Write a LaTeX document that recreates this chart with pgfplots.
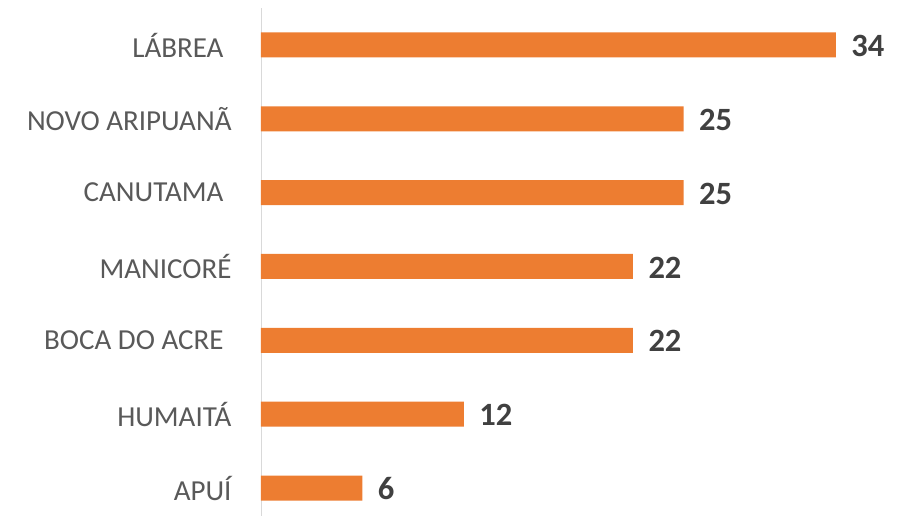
\documentclass[border=0pt]{standalone}
\usepackage{pgfplots}
\pgfplotsset{compat=1.18}
\usepackage{fontspec}
\setmainfont{Carlito}
\definecolor{barorange}{HTML}{ED7D31}
\definecolor{labgray}{HTML}{595959}
\definecolor{valgray}{HTML}{404040}
\definecolor{axgray}{HTML}{D9D9D9}

\begin{document}
\begin{tikzpicture}[x=1pt,y=1pt]
\path[use as bounding box] (0,0) rectangle (914,516);
\begin{axis}[
  at={(261pt,0pt)}, anchor=south west,
  scale only axis, width=653pt, height=508pt,
  xmin=0, xmax=38.62, ymin=-0.379, ymax=6.501,
  xbar, bar width=25pt,
  axis x line=none,
  axis y line*=left,
  y axis line style={draw=axgray, line width=0.9pt, -},
  xtick=\empty,
  ytick={0,...,6}, major tick length=0pt,
  yticklabels={APUÍ, HUMAITÁ, BOCA DO ACRE\kern8pt, MANICORÉ, CANUTAMA\kern8pt, NOVO ARIPUANÃ, LÁBREA\kern8pt},
  yticklabel style={font=\fontsize{29}{31}\selectfont, text=labgray, anchor=east, xshift=-26pt},
  clip=false,
  nodes near coords,
  point meta=x,
  every node near coord/.append style={font=\fontsize{32.5}{34}\bfseries\selectfont, text=valgray,
    anchor=west, xshift=12pt, yshift=-1pt, /pgf/number format/assume math mode=true},
]
\addplot[fill=barorange, draw=none] coordinates {
  (6,0) (12,1) (22,2) (22,3) (25,4) (25,5) (34,6)
};
\end{axis}
\end{tikzpicture}
\end{document}
